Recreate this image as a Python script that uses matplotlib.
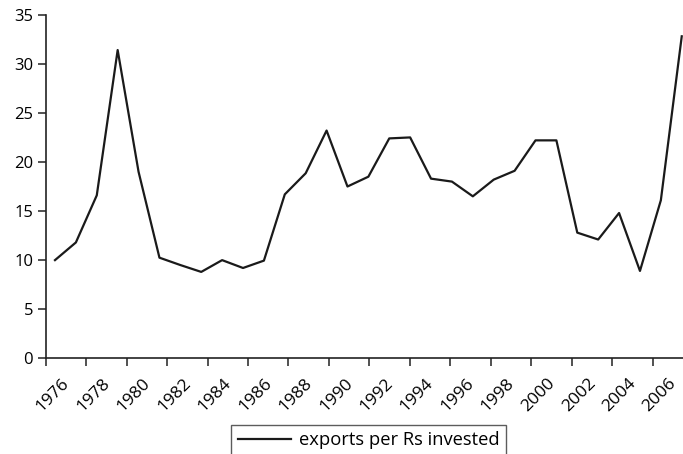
import numpy as np
import matplotlib
matplotlib.use("Agg")
import matplotlib.pyplot as plt

years = list(range(1976, 2007))
exports = [10.0, 11.8, 16.6, 31.4, 19.0, 10.25, 9.5, 8.8, 10.0, 9.2,
           9.95, 16.7, 18.85, 23.2, 17.5, 18.5, 22.4, 22.5, 18.3, 18.0,
           16.5, 18.2, 19.1, 22.2, 22.2, 12.8, 12.1, 14.8, 8.9, 16.1, 32.8]
label_years = years[::2]
series_name = "exports per Rs invested"

plt.rcParams['font.family'] = ['Open Sans', 'DejaVu Sans']

fig = plt.figure(figsize=(6.83, 4.54), dpi=100)
ax = fig.add_axes([0.0669, 0.2108, 0.9331, 0.7568])

ax.plot(years, exports, color='#1a1a1a', lw=1.6, label=series_name)

x0, x1 = 1975.555, 2006.06
step = 1.937  # category axis spacing is a bit tighter than the line's
ax.set_xlim(x0, x1)
ax.set_ylim(0, 35)
ax.set_yticks(range(0, 36, 5))

# tick marks (unlabelled) and year labels (no marks)
ax.set_xticks(x0 + step * np.arange(16))
ax.set_xticklabels([])
ax.tick_params(axis='x', which='major', length=6, width=1.1, color='#222222')
ax.set_xticks(1975.9 + step * np.arange(len(label_years)), minor=True)
ax.set_xticklabels([str(y) for y in label_years], minor=True, rotation=45,
                   ha='center', va='top', fontsize=12.5)
ax.tick_params(axis='x', which='minor', length=0, pad=12)
ax.tick_params(axis='y', length=6, width=1.1, color='#222222', labelsize=12, pad=3)

for s in ['top', 'right']:
    ax.spines[s].set_visible(False)
for s in ['left', 'bottom']:
    ax.spines[s].set_linewidth(1.2)
    ax.spines[s].set_color('#222222')

leg = fig.legend(loc='upper center', bbox_to_anchor=(0.5396, 1 - 425 / 454), frameon=True,
                 fancybox=False, edgecolor='#333333', fontsize=13.2,
                 handlelength=2.9, handletextpad=0.45, borderpad=0.35,
                 borderaxespad=0)
leg.get_frame().set_linewidth(1.0)

fig.savefig("out.png", dpi=100)
